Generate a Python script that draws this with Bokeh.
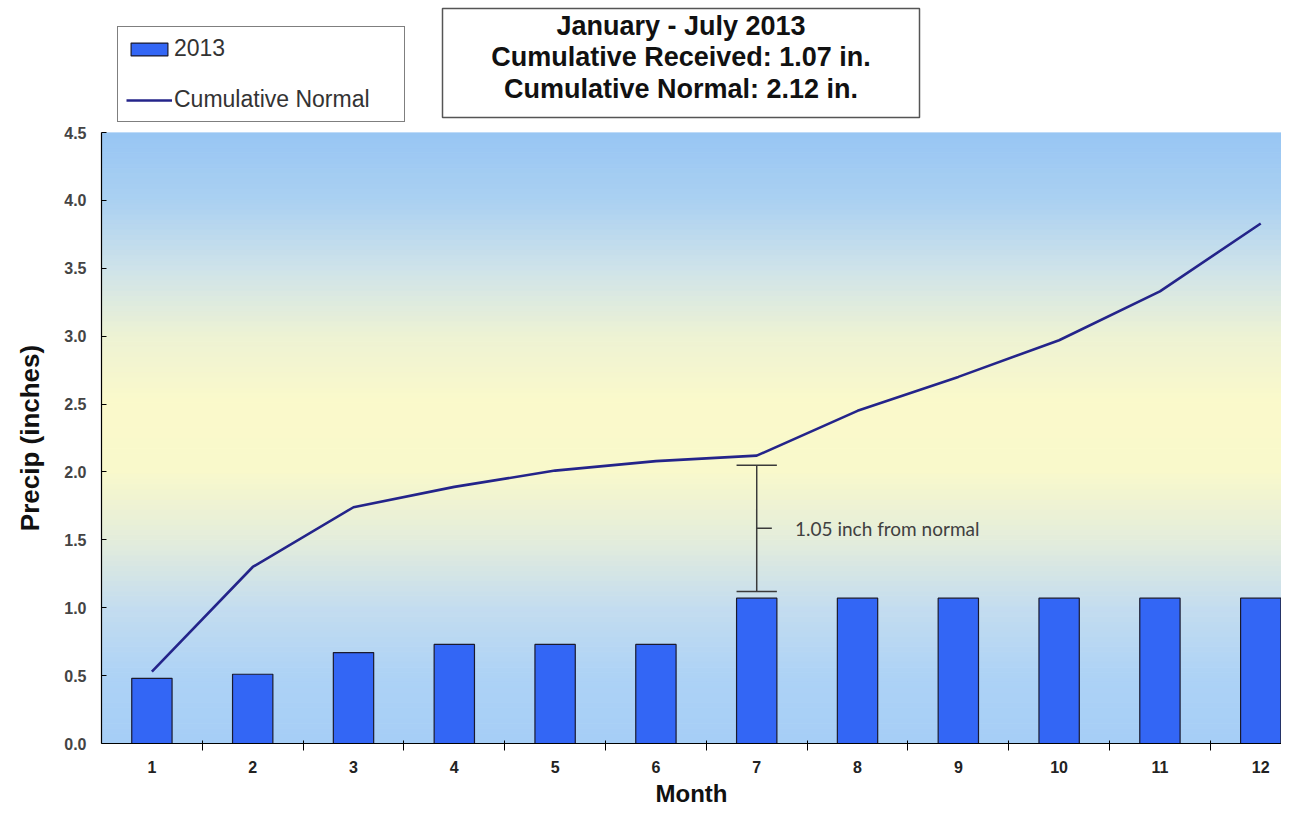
import numpy as np
from bokeh.plotting import figure
from bokeh.layouts import column
from bokeh.models import (ColumnDataSource, Range1d, FixedTicker, NumeralTickFormatter,
                          Legend, LegendItem)
from bokeh.core.properties import value
from bokeh.embed import file_html
from bokeh.resources import INLINE

# ---- data ----
months = [1, 2, 3, 4, 5, 6, 7, 8, 9, 10, 11, 12]
received_2013 = [0.48, 0.51, 0.67, 0.73, 0.73, 0.73, 1.07, 1.07, 1.07, 1.07, 1.07, 1.07]
cumulative_normal = [0.53, 1.30, 1.74, 1.89, 2.01, 2.08, 2.12, 2.45, 2.70, 2.97, 3.33, 3.83]
y_ticks = [0.0, 0.5, 1.0, 1.5, 2.0, 2.5, 3.0, 3.5, 4.0, 4.5]
gap_month = 7
gap_top = 2.05
gap_bottom = 1.12
gap_text = "1.05 inch from normal"
title_lines = ["January - July 2013", "Cumulative Received: 1.07 in.", "Cumulative Normal: 2.12 in."]
legend_labels = ["2013", "Cumulative Normal"]

FONT = "Liberation Sans"
BAR_FILL = "#3366f5"
BAR_LINE = "#1a1a2e"
LINE_COL = "#24248a"
BAR_W = 0.4
W = 1281
LEFT = 101
HEAD_H = 123
MAIN_H = 686

src = ColumnDataSource(dict(month=months, rec=received_2013, norm=cumulative_normal))

# ================= header (legend + title box), pixel coordinates =================
hd = figure(width=W, height=HEAD_H, x_range=Range1d(LEFT, W), y_range=Range1d(HEAD_H, 0),
            output_backend="svg", toolbar_location=None, min_border=0, min_border_left=LEFT)
hd.axis.visible = False
hd.grid.visible = False
hd.outline_line_color = None
hd.background_fill_color = "white"
hd.border_fill_color = "white"
# off-canvas ranges for the legend's swatch renderers
hd.extra_x_ranges = {"off": Range1d(100, 200)}
hd.extra_y_ranges = {"off": Range1d(100, 200)}

# title box
hd.quad(left=[442], right=[919], top=[8], bottom=[117], fill_color="white",
        line_color="#555555", line_width=1.5)
line_gap = 31.5
hd.text(x=[680.5] * 3, y=[25 + i * line_gap for i in range(3)], text=title_lines,
        text_font=value(FONT), text_font_style="bold", text_font_size="27px",
        text_color="#111111", text_align="center", text_baseline="middle")

# legend swatches: same series & styles as the chart, mapped off-canvas
leg_bar = hd.vbar(x="month", top="rec", width=BAR_W, source=src, fill_color=BAR_FILL,
                  line_color=BAR_LINE, line_width=1.2, x_range_name="off", y_range_name="off")
leg_line = hd.line(x="month", y="norm", source=src, line_color=LINE_COL, line_width=2.4,
                   x_range_name="off", y_range_name="off")
legend = Legend(items=[LegendItem(label=legend_labels[0], renderers=[leg_bar]),
                       LegendItem(label=legend_labels[1], renderers=[leg_line])],
                location=(117 - LEFT, 1), orientation="vertical",
                border_line_color="black", border_line_width=1.2, background_fill_color="white",
                background_fill_alpha=1.0, label_text_font=FONT, label_text_font_size="23px",
                label_text_color="#333333", glyph_width=46, glyph_height=16, label_height=24,
                label_width=222, label_standoff=2, spacing=24, padding=8, margin=0)
hd.add_layout(legend)

# ================= main chart =================
p = figure(width=W, height=MAIN_H, x_range=Range1d(0.5, 12.206), y_range=Range1d(0, 4.5),
           output_backend="svg", toolbar_location=None,
           min_border_left=LEFT, min_border_top=9, min_border_bottom=66, min_border_right=0)
p.outline_line_color = None
p.xgrid.visible = False
p.ygrid.visible = False
p.background_fill_color = "white"
p.border_fill_color = "white"

# background gradient (decoration)
stops_v = [0.0, 0.5, 1.0, 1.5, 2.0, 2.5, 3.0, 3.5, 4.0, 4.5]
stops_c = ["#a6cef6", "#aed3f6", "#c4ddf0", "#e4eddc", "#f9f9cc", "#fbfacb",
           "#eef3d4", "#cfe3ea", "#abd1f2", "#98c6f4"]
def hex2rgb(h):
    return [int(h[i:i + 2], 16) for i in (1, 3, 5)]
rgb = np.array([hex2rgb(c) for c in stops_c], dtype=float)
edges = np.linspace(0, 4.5, 121)
mids = (edges[:-1] + edges[1:]) / 2
cols = []
for m in mids:
    r = np.interp(m, stops_v, rgb[:, 0]); g = np.interp(m, stops_v, rgb[:, 1]); b = np.interp(m, stops_v, rgb[:, 2])
    cols.append("#%02x%02x%02x" % (int(r), int(g), int(b)))
p.quad(left=0.5, right=12.3, bottom=edges[:-1], top=edges[1:], fill_color=cols, line_color=cols, line_width=1)

# bars & line
bars = p.vbar(x="month", top="rec", width=BAR_W, source=src, fill_color=BAR_FILL,
              line_color=BAR_LINE, line_width=1.2)
line = p.line(x="month", y="norm", source=src, line_color=LINE_COL, line_width=2.6)

# gap annotation (bracket)
ann_col = "#3a3a3a"
mid = (gap_top + gap_bottom) / 2
p.segment(x0=[gap_month, gap_month - BAR_W / 2, gap_month - BAR_W / 2, gap_month],
          y0=[gap_bottom, gap_top, gap_bottom, mid],
          x1=[gap_month, gap_month + BAR_W / 2, gap_month + BAR_W / 2, gap_month + 0.15],
          y1=[gap_top, gap_top, gap_bottom, mid],
          line_color=ann_col, line_width=1.5)
p.text(x=[gap_month + 0.38], y=[mid], text=[gap_text], text_font=value("Lato"),
       text_font_size="19px", text_color="#404040", text_baseline="middle", text_align="left")

# axes
p.yaxis.ticker = FixedTicker(ticks=y_ticks)
p.yaxis.formatter = NumeralTickFormatter(format="0.0")
p.yaxis.major_tick_in = 5
p.yaxis.major_tick_out = 0
p.yaxis.minor_tick_line_color = None
p.yaxis.major_label_text_font = FONT
p.yaxis.major_label_text_font_style = "bold"
p.yaxis.major_label_text_font_size = "16px"
p.yaxis.major_label_text_color = "#444444"
p.yaxis.major_label_standoff = 15
p.yaxis.axis_label = "Precip (inches)"
p.yaxis.axis_label_text_font = FONT
p.yaxis.axis_label_text_font_style = "bold"
p.yaxis.axis_label_text_font_size = "26px"
p.yaxis.axis_label_text_color = "#111111"
p.yaxis.axis_label_standoff = 16
p.yaxis.axis_line_color = "black"
p.yaxis.axis_line_width = 1.2

p.xaxis.ticker = FixedTicker(ticks=months, minor_ticks=[m + 0.5 for m in months[:-1]])
p.xaxis.major_tick_in = 0
p.xaxis.major_tick_out = 0
p.xaxis.minor_tick_in = 3
p.xaxis.minor_tick_out = 7
p.xaxis.minor_tick_line_color = "black"
p.xaxis.major_label_text_font = FONT
p.xaxis.major_label_text_font_style = "bold"
p.xaxis.major_label_text_font_size = "16px"
p.xaxis.major_label_text_color = "#222222"
p.xaxis.major_label_standoff = 10
p.xaxis.axis_label = "Month"
p.xaxis.axis_label_text_font = FONT
p.xaxis.axis_label_text_font_style = "bold"
p.xaxis.axis_label_text_font_size = "24px"
p.xaxis.axis_label_text_color = "#111111"
p.xaxis.axis_label_standoff = 4
p.xaxis.axis_line_color = "black"
p.xaxis.axis_line_width = 1.2

layout = column(hd, p, spacing=0)
open("out.html", "w").write(file_html(layout, INLINE))
